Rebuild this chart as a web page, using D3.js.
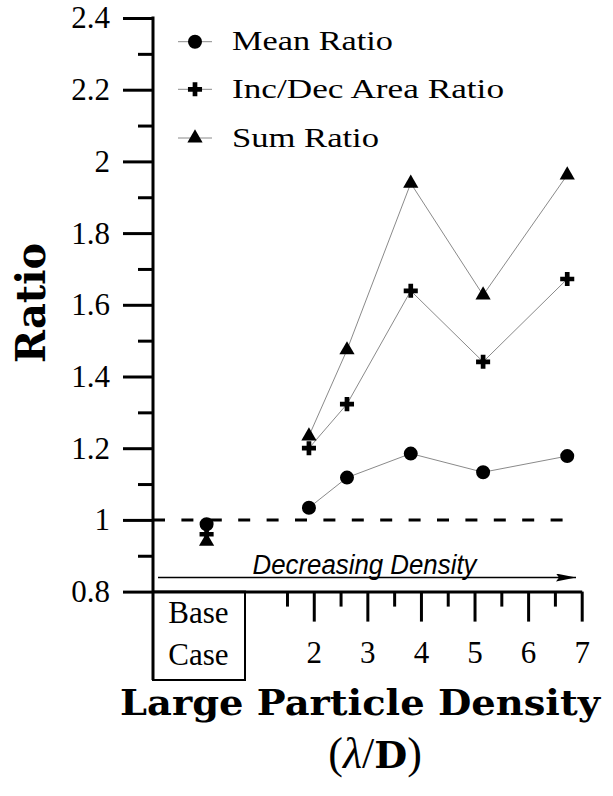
<!DOCTYPE html>
<html>
<head>
<meta charset="utf-8">
<script src="https://cdn.jsdelivr.net/npm/d3@7"></script>
<style>
  body { margin: 0; background: #fff; }
</style>
</head>
<body>
<div id="main"><svg width="613" height="796"></svg></div>
<script>
// Chart data
var densities   = [1.91, 2.62, 3.81, 5.16, 6.73];
var meanRatio   = [1.034, 1.118, 1.185, 1.133, 1.178];
var incDecRatio = [1.200, 1.323, 1.639, 1.441, 1.672];
var sumRatio    = [1.234, 1.474, 1.939, 1.627, 1.962];
// base case sits at x = 0 (left box)
var baseX = 0;
var baseValues = [0.988, 0.960, 0.940];   // mean, inc/dec, sum

var seriesNames = ["Mean Ratio", "Inc/Dec Area Ratio", "Sum Ratio"];
var yMajor = [0.8, 1.0, 1.2, 1.4, 1.6, 1.8, 2.0, 2.2, 2.4];
var yMinor = [0.9, 1.1, 1.3, 1.5, 1.7, 1.9, 2.1, 2.3];
var xMajor = [2, 3, 4, 5, 6, 7];
var xMinor = [1.5, 2.5, 3.5, 4.5, 5.5, 6.5];
var refValue = 1;

var svg = d3.select("#main").select("svg");
var serif = "'Liberation Serif', 'Times New Roman', serif";
var boldSerif = "'DejaVu Serif', serif";

// Scales
var xScale = d3.scaleLinear().domain([-1, 7]).range([153, 581.7]);
var yScale = d3.scaleLinear().domain([0.8, 2.4]).range([591.6, 18]);

// Y axis (major + minor ticks)
var yAxisG = svg.append("g")
    .attr("transform", "translate(" + xScale(-1) + ",0)")
    .call(d3.axisLeft(yScale).tickValues(yMajor).tickSize(30).tickPadding(13)
        .tickFormat(function(d) { return String(+d.toFixed(1)); }));
yAxisG.select(".domain").remove();
yAxisG.selectAll("line").attr("stroke-width", 3);
yAxisG.selectAll("text")
    .attr("font-family", serif).attr("font-size", 31).attr("fill", "#000");

var yMinorG = svg.append("g")
    .attr("transform", "translate(" + xScale(-1) + ",0)")
    .call(d3.axisLeft(yScale).tickValues(yMinor).tickSize(15).tickFormat(""));
yMinorG.select(".domain").remove();
yMinorG.selectAll("line").attr("stroke-width", 3);

// long vertical axis line running down past the x axis
svg.append("line")
    .attr("x1", xScale(-1)).attr("x2", xScale(-1))
    .attr("y1", yScale(2.4) - 1.5).attr("y2", 680)
    .attr("stroke", "#000").attr("stroke-width", 3);

// X axis
var xAxisG = svg.append("g")
    .attr("transform", "translate(0," + yScale(0.8) + ")")
    .call(d3.axisBottom(xScale).tickValues(xMajor).tickSize(30).tickSizeOuter(0).tickPadding(19));
xAxisG.select(".domain").attr("stroke-width", 3);
xAxisG.selectAll("line").attr("stroke-width", 3);
xAxisG.selectAll("text")
    .attr("font-family", serif).attr("font-size", 31).attr("fill", "#000");

var xMinorG = svg.append("g")
    .attr("transform", "translate(0," + yScale(0.8) + ")")
    .call(d3.axisBottom(xScale).tickValues(xMinor).tickSize(15).tickFormat(""));
xMinorG.select(".domain").remove();
xMinorG.selectAll("line").attr("stroke-width", 3);

// Base case box
svg.append("rect")
    .attr("x", xScale(-1)).attr("y", yScale(0.8))
    .attr("width", 92).attr("height", 680 - yScale(0.8))
    .attr("fill", "none").attr("stroke", "#000").attr("stroke-width", 2);
svg.append("text").attr("x", 198.5).attr("y", 623).attr("text-anchor", "middle")
    .attr("font-family", serif).attr("font-size", 31).text("Base");
svg.append("text").attr("x", 198.5).attr("y", 665).attr("text-anchor", "middle")
    .attr("font-family", serif).attr("font-size", 31).text("Case");

// Dashed reference line at ratio = 1
svg.append("line")
    .attr("x1", xScale(-1)).attr("x2", xScale(6.69))
    .attr("y1", yScale(refValue)).attr("y2", yScale(refValue))
    .attr("stroke", "#000").attr("stroke-width", 3)
    .attr("stroke-dasharray", "12,16.4");

// Decreasing density arrow
svg.append("defs").append("marker")
    .attr("id", "arrow").attr("viewBox", "0 0 20 8")
    .attr("refX", 20).attr("refY", 4)
    .attr("markerWidth", 20).attr("markerHeight", 8)
    .attr("markerUnits", "userSpaceOnUse").attr("orient", "auto")
    .append("path").attr("d", "M0,0L20,4L0,8L3,4Z").attr("fill", "#000");
svg.append("line")
    .attr("x1", 158).attr("x2", 576)
    .attr("y1", 577.5).attr("y2", 577.5)
    .attr("stroke", "#000").attr("stroke-width", 1.3)
    .attr("marker-end", "url(#arrow)");
svg.append("text")
    .attr("x", 252.5).attr("y", 574)
    .attr("font-family", "'Liberation Sans', Arial, sans-serif")
    .attr("font-style", "italic").attr("font-size", 27)
    .attr("textLength", 224).attr("lengthAdjust", "spacingAndGlyphs")
    .text("Decreasing Density");

// Series lines + markers
var allSeries = [meanRatio, incDecRatio, sumRatio];
var symbols = [d3.symbolCircle, d3.symbolCross, d3.symbolTriangle];
var symSizes = [154, 110, 100];

var line = d3.line()
    .x(function(d, i) { return xScale(densities[i]); })
    .y(function(d) { return yScale(d); });

allSeries.forEach(function(values, s) {
    svg.append("path")
        .datum(values)
        .attr("d", line)
        .attr("fill", "none")
        .attr("stroke", "#8a8a8a")
        .attr("stroke-width", 1);
});

// draw sum first so circles / crosses sit on top like the original
[2, 1, 0].forEach(function(s) {
    var sym = d3.symbol().type(symbols[s]).size(symSizes[s]);
    svg.append("g").selectAll("path")
        .data(allSeries[s])
        .join("path")
        .attr("d", sym)
        .attr("transform", function(d, i) {
            return "translate(" + xScale(densities[i]) + "," + yScale(d) + ")";
        })
        .attr("fill", "#000");
    svg.append("path")
        .attr("d", sym)
        .attr("transform", "translate(" + xScale(baseX) + "," + yScale(baseValues[s]) + ")")
        .attr("fill", "#000");
});

// Legend
var legendY = [41.7, 89.3, 138];
var legendWidths = [161, 272, 147];
seriesNames.forEach(function(name, s) {
    var g = svg.append("g").attr("transform", "translate(0," + legendY[s] + ")");
    g.append("line").attr("x1", 178).attr("x2", 212)
        .attr("stroke", "#8a8a8a").attr("stroke-width", 1);
    g.append("path")
        .attr("d", d3.symbol().type(symbols[s]).size(symSizes[s]))
        .attr("transform", "translate(195,0)")
        .attr("fill", "#000");
    g.append("text")
        .attr("x", 232).attr("y", 8.5)
        .attr("font-family", serif).attr("font-size", 28)
        .attr("textLength", legendWidths[s]).attr("lengthAdjust", "spacingAndGlyphs")
        .text(name);
});

// Axis titles
svg.append("text")
    .attr("transform", "translate(45,303) rotate(-90)")
    .attr("text-anchor", "middle")
    .attr("font-family", boldSerif).attr("font-weight", "bold").attr("font-size", 41)
    .attr("textLength", 120).attr("lengthAdjust", "spacingAndGlyphs")
    .text("Ratio");

svg.append("text")
    .attr("x", 120).attr("y", 715)
    .attr("font-family", boldSerif).attr("font-weight", "bold").attr("font-size", 36)
    .attr("textLength", 480).attr("lengthAdjust", "spacingAndGlyphs")
    .text("Large Particle Density");

var sub = svg.append("text")
    .attr("x", 375).attr("y", 768)
    .attr("text-anchor", "middle")
    .attr("font-family", serif).attr("font-size", 44);
sub.append("tspan").text("(");
sub.append("tspan").attr("font-style", "italic").text("λ");
sub.append("tspan").text("/");
sub.append("tspan").attr("font-family", boldSerif).attr("font-weight", "bold")
    .attr("font-size", 38).text("D");
sub.append("tspan").text(")");
</script>
</body>
</html>
